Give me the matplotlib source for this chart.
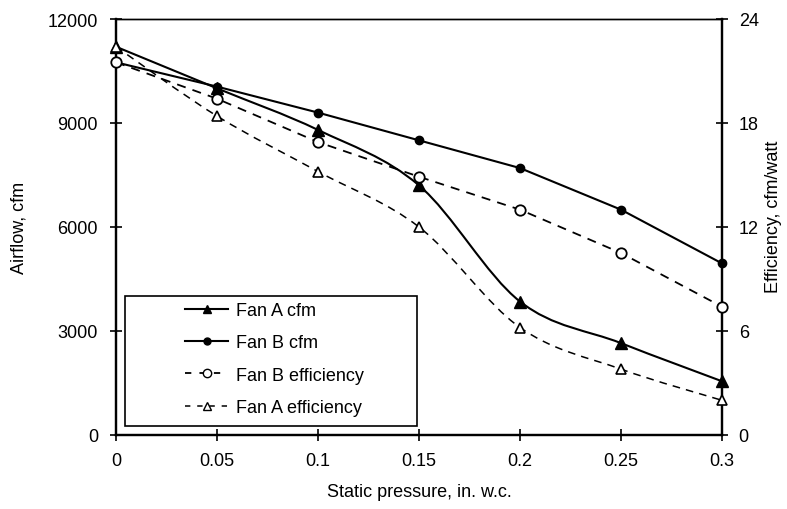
import numpy as np
import matplotlib
matplotlib.use("Agg")
import matplotlib.pyplot as plt
from matplotlib.path import Path
from matplotlib.patches import PathPatch, Rectangle
from matplotlib.lines import Line2D

plt.rcParams['font.family'] = ['Liberation Sans', 'DejaVu Sans']

pressure = [0, 0.05, 0.1, 0.15, 0.2, 0.25, 0.3]
fan_a_cfm = [11200, 10000, 8800, 7200, 3850, 2650, 1550]
fan_b_cfm = [10750, 10050, 9300, 8500, 7700, 6500, 4950]
fan_b_eff = [21.5, 19.4, 16.9, 14.9, 13.0, 10.5, 7.4]
fan_a_eff = [22.4, 18.4, 15.2, 12.0, 6.2, 3.8, 2.0]
x_ticks = [0, 0.05, 0.1, 0.15, 0.2, 0.25, 0.3]
x_tick_labels = ['0', '0.05', '0.1', '0.15', '0.2', '0.25', '0.3']
left_ticks = [0, 3000, 6000, 9000, 12000]
right_ticks = [0, 6, 12, 18, 24]

FS = 13


def smooth_path(xs, ys):
    p = np.column_stack([xs, ys]).astype(float)
    n = len(p)
    verts = [p[0]]
    codes = [Path.MOVETO]
    for i in range(n - 1):
        p0 = p[i - 1] if i > 0 else p[i]
        p1 = p[i]
        p2 = p[i + 1]
        p3 = p[i + 2] if i + 2 < n else p[i + 1]
        c1 = p1 + (p2 - p0) / 6.0
        c2 = p2 - (p3 - p1) / 6.0
        verts += [c1, c2, p2]
        codes += [Path.CURVE4] * 3
    return Path(verts, codes)


fig = plt.figure(figsize=(7.87, 5.10), dpi=100)
ax = fig.add_axes([116 / 787, 1 - 436 / 510, 606 / 787, 416 / 510])
ax2 = ax.twinx()

ax.set_xlim(0, 0.3)
ax.set_ylim(0, 12000)
ax2.set_ylim(0, 24)

# Fan A (smoothed)
ax.add_patch(PathPatch(smooth_path(pressure, fan_a_cfm), fill=False, ec='black', lw=1.5, zorder=3))
ax.plot(pressure, fan_a_cfm, ls='none', marker='^', ms=8, color='black', zorder=4, clip_on=False)
# Fan B cfm (straight)
ax.plot(pressure, fan_b_cfm, ls='-', lw=1.5, marker='o', ms=6, color='black', zorder=4, clip_on=False)

# Fan B efficiency (straight dashed)
ax2.plot(pressure, fan_b_eff, ls=(0, (5, 4)), lw=1.3, color='black', marker='o', ms=7.5,
         mfc='white', mec='black', mew=1.3, zorder=4, clip_on=False)
# Fan A efficiency (smoothed dashed)
ax2.add_patch(PathPatch(smooth_path(pressure, fan_a_eff), fill=False, ec='black', lw=1.1,
                        ls=(0, (5, 4)), zorder=3))
ax2.plot(pressure, fan_a_eff, ls='none', marker='^', ms=6.5, mfc='white', mec='black', mew=1.2,
         zorder=4, clip_on=False)

# axes styling
for a in (ax, ax2):
    a.spines['top'].set_linewidth(1.0)
    a.spines['left'].set_linewidth(1.6)
    a.spines['right'].set_linewidth(1.6)
    a.spines['bottom'].set_linewidth(1.6)

ax.set_xticks(x_ticks)
ax.set_xticklabels(x_tick_labels)
ax.set_yticks(left_ticks)
ax.set_yticklabels([str(v) for v in left_ticks])
ax2.set_yticks(right_ticks)
ax2.set_yticklabels([str(v) for v in right_ticks])

ax.tick_params(axis='y', direction='inout', length=8, width=1.2, labelsize=FS, pad=9)
ax.tick_params(axis='x', direction='inout', length=8, width=1.2, labelsize=FS, pad=8)
ax2.tick_params(axis='y', direction='inout', length=8, width=1.2, labelsize=FS, pad=8)

ax.set_xlabel('Static pressure, in. w.c.', fontsize=FS, labelpad=10)
ax.set_ylabel('Airflow, cfm', fontsize=FS, va='center', ha='center')
ax.yaxis.set_label_coords((19 - 116) / 606, 0.5)
ax2.set_ylabel('Efficiency, cfm/watt', fontsize=FS, rotation=90, va='center', ha='center')
ax2.yaxis.set_label_coords((774 - 116) / 606, (436 - 217) / 416)

handles = [
    Line2D([], [], color='black', lw=1.5, marker='^', ms=6),
    Line2D([], [], color='black', lw=1.5, marker='o', ms=5),
    Line2D([], [], color='black', lw=1.3, ls=(0, (3.5, 4.5)), marker='o', ms=6, mfc='white', mec='black'),
    Line2D([], [], color='black', lw=1.1, ls=(0, (3.5, 4.5)), marker='^', ms=6, mfc='white', mec='black'),
]
labels = ['Fan A cfm', 'Fan B cfm', 'Fan B efficiency', 'Fan A efficiency']

# legend frame
ax2.add_patch(Rectangle(((125 - 116) / 606, (436 - 427) / 416), (417 - 125) / 606, (427 - 297) / 416,
                        transform=ax2.transAxes, fill=True, fc='white', ec='black', lw=1.2,
                        zorder=9, clip_on=False))
leg = ax2.legend(handles, labels, loc='upper left', bbox_to_anchor=((185 - 116) / 606, (436 - 303) / 416),
                 frameon=False, fontsize=FS, handlelength=2.4, labelspacing=0.85,
                 borderaxespad=0, borderpad=0, handletextpad=0.45)
leg.set_zorder(10)

fig.savefig('out.png', dpi=100)
